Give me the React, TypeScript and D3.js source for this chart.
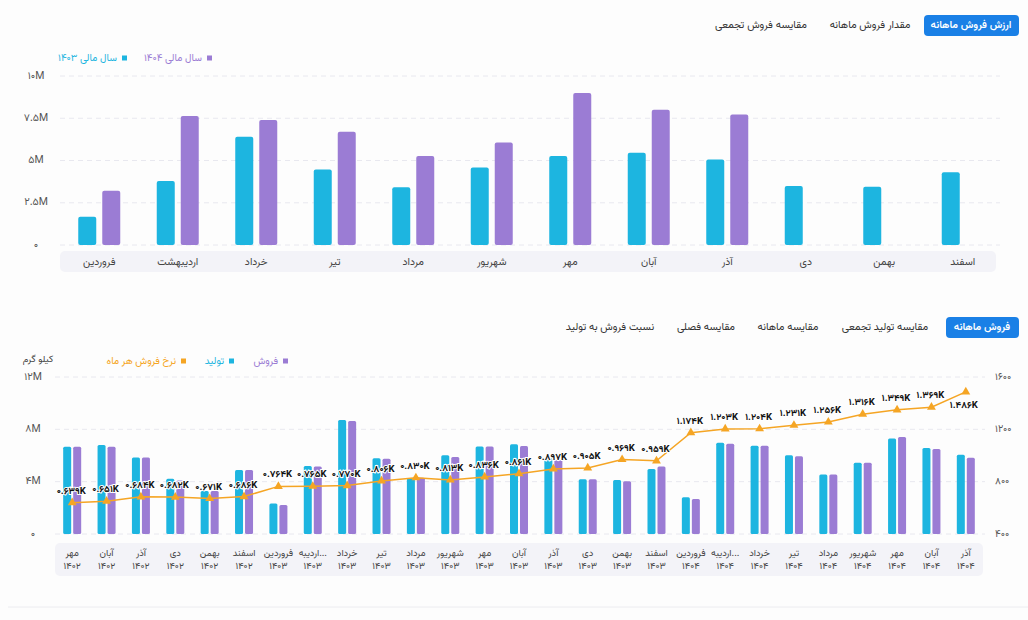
import React, { useEffect, useRef } from 'react';
import * as d3 from 'd3';

// top chart: monthly sales value (Rial millions)
const topMonths = ['فروردین', 'اردیبهشت', 'خرداد', 'تیر', 'مرداد', 'شهریور', 'مهر', 'آبان', 'آذر', 'دی', 'بهمن', 'اسفند'];
const value1403 = [1.67, 3.78, 6.4, 4.47, 3.41, 4.59, 5.26, 5.46, 5.06, 3.49, 3.45, 4.3];
const value1404: (number | null)[] = [3.21, 7.64, 7.39, 6.7, 5.26, 6.07, 9.0, 8.0, 7.72, null, null, null];
const topTicks = [0, 2.5, 5, 7.5, 10];

// bottom chart: monthly production / sales (kg, millions) and sales rate
const bottomMonths = ['مهر', 'آبان', 'آذر', 'دی', 'بهمن', 'اسفند', 'فروردین', 'اردیبه...', 'خرداد', 'تیر', 'مرداد', 'شهریور', 'مهر', 'آبان', 'آذر', 'دی', 'بهمن', 'اسفند', 'فروردین', 'اردیبه...', 'خرداد', 'تیر', 'مرداد', 'شهریور', 'مهر', 'آبان', 'آذر'];
const bottomYears = ['1402', '1402', '1402', '1402', '1402', '1402', '1403', '1403', '1403', '1403', '1403', '1403', '1403', '1403', '1403', '1403', '1403', '1403', '1404', '1404', '1404', '1404', '1404', '1404', '1404', '1404', '1404'];
const production = [6.67, 6.8, 5.84, 4.23, 3.29, 4.89, 2.34, 5.2, 8.72, 5.79, 4.26, 6.02, 6.68, 6.86, 5.79, 4.18, 4.13, 4.97, 2.8, 6.98, 6.75, 6.02, 4.54, 5.45, 7.29, 6.57, 6.06];
const sales = [6.67, 6.67, 5.84, 4.08, 3.29, 4.89, 2.22, 5.15, 8.64, 5.76, 4.3, 5.89, 6.68, 6.73, 5.66, 4.18, 4.03, 5.15, 2.68, 6.9, 6.75, 5.94, 4.54, 5.45, 7.42, 6.5, 5.83];
const rate = [639, 651, 684, 682, 671, 686, 764, 765, 770, 806, 830, 813, 836, 861, 897, 905, 969, 959, 1174, 1203, 1204, 1231, 1256, 1316, 1349, 1369, 1486];
const leftTicks = [0, 4, 8, 12];
const rightTicks = [400, 800, 1200, 1600];

const topTabs = ['ارزش فروش ماهانه', 'مقدار فروش ماهانه', 'مقایسه فروش تجمعی'];
const bottomTabs = ['فروش ماهانه', 'مقایسه تولید تجمعی', 'مقایسه ماهانه', 'مقایسه فصلی', 'نسبت فروش به تولید'];

const CYAN = '#1db5e0';
const PURPLE = '#9b7cd4';
const ORANGE = '#f5a524';
const FONT = "Vazirmatn, 'DejaVu Sans', sans-serif";

const fa = (s: string | number) => String(s).replace(/[0-9]/g, d => '۰۱۲۳۴۵۶۷۸۹'[+d]);

const App: React.FC = () => {
  const svgRef = useRef<SVGSVGElement>(null);

  useEffect(() => {
    const svg = d3.select(svgRef.current);
    svg.selectAll('*').remove();
    svg.style('font-family', FONT);

    svg.append('rect').attr('width', 1028).attr('height', 620).attr('fill', '#fdfdfd');

    // ---- tabs
    const drawTabs = (labels: string[], centers: number[], active: [number, number, number, number], cy: number) => {
      svg.append('rect')
        .attr('x', active[0]).attr('y', active[1])
        .attr('width', active[2]).attr('height', active[3])
        .attr('rx', 4).attr('fill', '#1a80e6');
      labels.forEach((t, i) => {
        svg.append('text')
          .attr('x', centers[i]).attr('y', cy)
          .attr('text-anchor', 'middle')
          .attr('dominant-baseline', 'central')
          .attr('direction', 'rtl')
          .style('font-size', '10.5px')
          .style('font-weight', i === 0 ? '600' : '400')
          .style('fill', i === 0 ? '#fff' : '#333')
          .text(t);
      });
    };
    drawTabs(topTabs, [971, 870, 761], [924, 15, 95, 21], 25.5);
    drawTabs(bottomTabs, [982, 885, 788, 706, 610], [946, 317, 73, 21], 327);

    // ---- legend helper
    const legendItem = (x: number, y: number, color: string, label: string, textColor?: string) => {
      svg.append('rect').attr('x', x).attr('y', y - 2.5).attr('width', 5).attr('height', 5).attr('fill', color);
      svg.append('text')
        .attr('x', x - 5).attr('y', y)
        .attr('text-anchor', 'end')
        .attr('dominant-baseline', 'central')
        .style('font-size', '10px')
        .style('fill', textColor || color)
        .text(label);
    };

    // ================= TOP CHART =================
    const tx = d3.scaleBand<string>().domain(topMonths).range([60, 1002]);
    const ty = d3.scaleLinear().domain([0, 10]).range([245, 76]);

    legendItem(207, 58, PURPLE, 'سال مالی ۱۴۰۴');
    legendItem(122, 58, CYAN, 'سال مالی ۱۴۰۳');

    const tg = svg.append('g');
    tg.selectAll('.grid')
      .data(topTicks)
      .enter()
      .append('line')
      .attr('x1', 60).attr('x2', 1000)
      .attr('y1', d => ty(d)).attr('y2', d => ty(d))
      .style('stroke', '#e8e8ef')
      .style('stroke-dasharray', '5,4');

    tg.selectAll('.ytick')
      .data(topTicks)
      .enter()
      .append('text')
      .attr('x', 36).attr('y', d => ty(d))
      .attr('text-anchor', 'middle')
      .attr('dominant-baseline', 'central')
      .style('font-size', '10.5px')
      .style('fill', '#555')
      .text(d => (d === 0 ? fa(0) : fa(d) + 'M'));

    const tbw = 18, tgap = 6;
    tg.selectAll('.b1403')
      .data(value1403)
      .enter()
      .append('rect')
      .attr('x', (d, i) => (tx(topMonths[i]) || 0) + tx.bandwidth() / 2 - tgap / 2 - tbw)
      .attr('y', d => ty(d))
      .attr('width', tbw)
      .attr('height', d => ty(0) - ty(d))
      .attr('rx', 2)
      .style('fill', CYAN);

    tg.selectAll('.b1404')
      .data(value1404.map((v, i) => ({ v, i })).filter(d => d.v !== null))
      .enter()
      .append('rect')
      .attr('x', d => (tx(topMonths[d.i]) || 0) + tx.bandwidth() / 2 + tgap / 2)
      .attr('y', d => ty(d.v as number))
      .attr('width', tbw)
      .attr('height', d => ty(0) - ty(d.v as number))
      .attr('rx', 2)
      .style('fill', PURPLE);

    tg.append('rect')
      .attr('x', 60).attr('y', 251).attr('width', 936).attr('height', 21)
      .attr('rx', 5).style('fill', '#f3f3f8');
    tg.selectAll('.xlab')
      .data(topMonths)
      .enter()
      .append('text')
      .attr('x', d => (tx(d) || 0) + tx.bandwidth() / 2)
      .attr('y', 262)
      .attr('text-anchor', 'middle')
      .attr('dominant-baseline', 'central')
      .style('font-size', '10.5px')
      .style('fill', '#444')
      .text(d => d);

    // ================= BOTTOM CHART =================
    const keys = bottomMonths.map((m, i) => `${i}`);
    const bx = d3.scaleBand<string>().domain(keys).range([55, 983]);
    const by = d3.scaleLinear().domain([0, 12]).range([534, 377]);
    const ry = d3.scaleLinear().domain([400, 1600]).range([534, 377]);

    legendItem(283, 361, PURPLE, 'فروش');
    legendItem(229, 361, CYAN, 'تولید');
    legendItem(181, 361, ORANGE, 'نرخ فروش هر ماه');
    svg.append('text')
      .attr('x', 38).attr('y', 359)
      .attr('text-anchor', 'middle')
      .attr('dominant-baseline', 'central')
      .style('font-size', '9.5px')
      .style('fill', '#444')
      .text('کیلو گرم');

    const bg = svg.append('g');
    bg.selectAll('.grid')
      .data(leftTicks)
      .enter()
      .append('line')
      .attr('x1', 55).attr('x2', 985)
      .attr('y1', d => by(d)).attr('y2', d => by(d))
      .style('stroke', '#e8e8ef')
      .style('stroke-dasharray', '5,4');

    bg.selectAll('.ltick')
      .data(leftTicks)
      .enter()
      .append('text')
      .attr('x', 33).attr('y', d => by(d))
      .attr('text-anchor', 'middle')
      .attr('dominant-baseline', 'central')
      .style('font-size', '10.5px')
      .style('fill', '#555')
      .text(d => (d === 0 ? fa(0) : fa(d) + 'M'));

    bg.selectAll('.rtick')
      .data(rightTicks)
      .enter()
      .append('text')
      .attr('x', 995).attr('y', d => ry(d))
      .attr('text-anchor', 'start')
      .attr('dominant-baseline', 'central')
      .style('font-size', '10px')
      .style('fill', '#555')
      .text(d => fa(d));

    const bbw = 8, bgap = 2;
    const center = (i: number) => (bx(keys[i]) || 0) + bx.bandwidth() / 2;

    bg.selectAll('.prod')
      .data(production)
      .enter()
      .append('rect')
      .attr('x', (d, i) => center(i) - bgap / 2 - bbw)
      .attr('y', d => by(d))
      .attr('width', bbw)
      .attr('height', d => by(0) - by(d))
      .attr('rx', 1.5)
      .style('fill', CYAN);

    bg.selectAll('.sale')
      .data(sales)
      .enter()
      .append('rect')
      .attr('x', (d, i) => center(i) + bgap / 2)
      .attr('y', d => by(d))
      .attr('width', bbw)
      .attr('height', d => by(0) - by(d))
      .attr('rx', 1.5)
      .style('fill', PURPLE);

    const line = d3.line<number>()
      .x((d, i) => center(i))
      .y(d => ry(d));
    bg.append('path')
      .datum(rate)
      .attr('d', line)
      .style('fill', 'none')
      .style('stroke', ORANGE)
      .style('stroke-width', 1.5);

    const tri = d3.symbol().type(d3.symbolTriangle).size(34);
    bg.selectAll('.mark')
      .data(rate)
      .enter()
      .append('path')
      .attr('d', tri)
      .attr('transform', (d, i) => `translate(${center(i)},${ry(d)})`)
      .style('fill', ORANGE);

    bg.selectAll('.rlab')
      .data(rate)
      .enter()
      .append('text')
      .attr('x', (d, i) => (i === rate.length - 1 ? center(i) - 2 : center(i) - 1))
      .attr('y', (d, i) => (i === rate.length - 1 ? ry(d) + 16 : ry(d) - 9))
      .attr('text-anchor', 'middle')
      .style('font-size', '9.5px')
      .style('font-weight', '700')
      .style('fill', '#111')
      .style('stroke', '#fff')
      .style('stroke-width', 2)
      .style('paint-order', 'stroke')
      .text(d => fa((d / 1000).toFixed(3)) + 'K');

    bg.append('rect')
      .attr('x', 55).attr('y', 543).attr('width', 928).attr('height', 33)
      .attr('rx', 5).style('fill', '#f3f3f8');
    bg.selectAll('.mlab')
      .data(bottomMonths)
      .enter()
      .append('text')
      .attr('x', (d, i) => center(i))
      .attr('y', 553)
      .attr('text-anchor', 'middle')
      .attr('dominant-baseline', 'central')
      .style('font-size', '9.5px')
      .style('fill', '#444')
      .text(d => d);
    bg.selectAll('.ylab')
      .data(bottomYears)
      .enter()
      .append('text')
      .attr('x', (d, i) => center(i))
      .attr('y', 566)
      .attr('text-anchor', 'middle')
      .attr('dominant-baseline', 'central')
      .style('font-size', '9.5px')
      .style('fill', '#444')
      .text(d => fa(d));

    svg.append('line')
      .attr('x1', 8).attr('x2', 1028)
      .attr('y1', 607).attr('y2', 607)
      .style('stroke', '#ececf0');
  }, []);

  return (
    <div style={{ position: 'absolute', left: 0, top: 0 }}>
      <svg ref={svgRef} width={1028} height={620} style={{ display: 'block' }} />
    </div>
  );
};

export default App;
